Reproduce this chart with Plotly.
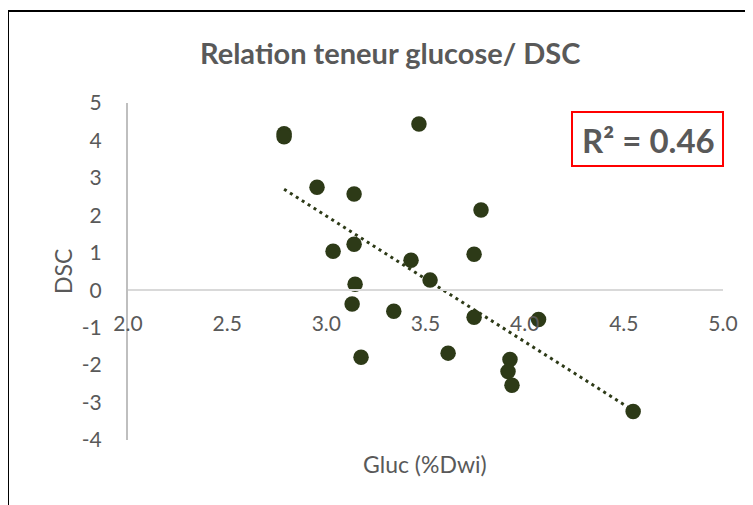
import numpy as np
import plotly.graph_objects as go

gluc = [2.787, 2.787, 2.953, 3.14, 3.034, 3.14, 3.145, 3.13, 3.175, 3.34, 3.427, 3.467,
        3.523, 3.614, 3.745, 3.745, 3.78, 4.07, 3.926, 3.916, 3.936, 4.547]
dsc = [4.18, 4.10, 2.75, 2.57, 1.04, 1.23, 0.16, -0.37, -1.79, -0.56, 0.80, 4.44,
       0.27, -1.68, 0.96, -0.72, 2.14, -0.78, -1.85, -2.17, -2.54, -3.24]
x_ticks = [2.0, 2.5, 3.0, 3.5, 4.0, 4.5, 5.0]
y_ticks = [-4, -3, -2, -1, 0, 1, 2, 3, 4, 5]

title = "Relation teneur glucose/ DSC"
x_title = "Gluc (%Dwi)"
y_title = "DSC"
r2_text = "R² = 0.46"

mark_color = "#2D3A17"
text_color = "#595959"
font_family = "Lato, 'Open Sans', sans-serif"

slope, intercept = np.polyfit(gluc, dsc, 1)
xt = [min(gluc), max(gluc)]
yt = [slope * v + intercept for v in xt]

fig = go.Figure()
fig.add_trace(go.Scatter(x=gluc, y=dsc, mode="markers",
                         marker=dict(size=15.5, color=mark_color), showlegend=False))
fig.add_trace(go.Scatter(x=xt, y=yt, mode="lines",
                         line=dict(color=mark_color, width=3, dash="3px,4px"),
                         showlegend=False))

# page body has an 8px margin: work in window pixels, shift by OFF
OFF = 8
W, H = 753 - OFF, 505 - OFF
L, R, T, B = 128 - OFF, 30, 103 - OFF, 65
pw, ph = W - L - R, H - T - B

def px_x(p):
    return (p - OFF - L) / pw

def px_y(p):
    return (H - B - (p - OFF)) / ph

def ann(text, x, y, size, angle=0):
    return dict(text=text, xref="paper", yref="paper", x=px_x(x), y=px_y(y),
                xanchor="center", yanchor="middle", showarrow=False, textangle=angle,
                font=dict(size=size, color=text_color))

fig.update_layout(
    width=W, height=H,
    margin=dict(l=L, r=R, t=T, b=B, autoexpand=False),
    paper_bgcolor="white", plot_bgcolor="white",
    font=dict(family=font_family, color=text_color),
    xaxis=dict(range=[2, 5], tickvals=x_ticks, ticktext=[f"{v:.1f}" for v in x_ticks],
               anchor="free", position=4 / 9, showline=True, linecolor="#D9D9D9",
               linewidth=2, showgrid=False, zeroline=False,
               ticks="outside", ticklen=15, tickcolor="rgba(0,0,0,0)",
               tickfont=dict(size=21, color=text_color)),
    yaxis=dict(range=[-4, 5], tickvals=y_ticks, ticktext=[str(v) for v in y_ticks],
               showline=True, linecolor="#BFBFBF",
               linewidth=2, showgrid=False, zeroline=False,
               ticks="outside", ticklen=20, tickcolor="rgba(0,0,0,0)",
               tickfont=dict(size=21, color=text_color)),
    shapes=[
        dict(type="rect", xref="paper", yref="paper",
             x0=px_x(8), x1=px_x(770), y0=px_y(520), y1=px_y(11),
             line=dict(color="black", width=2), fillcolor="rgba(0,0,0,0)", layer="below"),
        dict(type="rect", xref="paper", yref="paper",
             x0=px_x(572), x1=px_x(723), y0=px_y(166), y1=px_y(112),
             line=dict(color="red", width=2), fillcolor="rgba(0,0,0,0)"),
    ],
    annotations=[
        ann(f"<b>{title}</b>", 390, 52, 29),
        ann(f"<b>{r2_text}</b>", 648, 140, 33),
        ann(x_title, 425, 464, 23),
        ann(y_title, 63, 272, 23, -90),
    ],
)

fig.write_html("out.html")
